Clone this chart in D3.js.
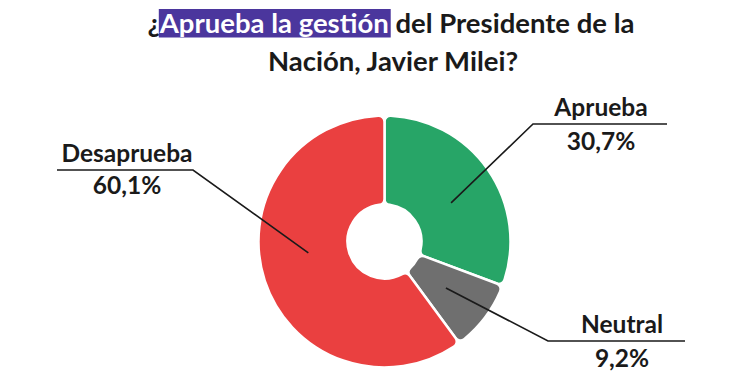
<!DOCTYPE html>
<html><head><meta charset="utf-8">
<script src="https://cdn.jsdelivr.net/npm/d3@7"></script>
<style>
html,body{margin:0;padding:0;background:#fff;}
text{font-family:Lato,"Open Sans",sans-serif;font-weight:700;}
</style></head>
<body><svg id="c" width="735" height="381"></svg>
<script>
const categories = ["Aprueba", "Neutral", "Desaprueba"];
const values = [30.7, 9.2, 60.1];
const valueLabels = ["30,7%", "9,2%", "60,1%"];
const colors = ["#27a567", "#6f6f6f", "#ea4040"];

const svg = d3.select("#c");
const cx = 384.5, cy = 241.5, rOut = 126, rIn = 37;

// Title
const t1 = svg.append("text").attr("x", 391).attr("y", 33).attr("text-anchor", "middle")
  .attr("font-size", 27.5).attr("fill", "#1a1a1a");
t1.append("tspan").text("¿");
const hl = t1.append("tspan").attr("fill", "#fff").text("Aprueba la gestión");
t1.append("tspan").text(" del Presidente de la");
svg.append("text").attr("x", 393).attr("y", 71).attr("text-anchor", "middle")
  .attr("font-size", 27.5).attr("fill", "#1a1a1a").text("Nación, Javier Milei?");
// highlight box behind the span
const n = t1.node();
const s0 = n.getStartPositionOfChar(1).x;
const s1 = n.getEndPositionOfChar(18).x;
svg.insert("rect", "text").attr("x", s0 - 1).attr("y", 9).attr("width", s1 - s0 + 3).attr("height", 28.5)
  .attr("fill", "#4b369d");

const data = categories.map((c, i) => ({cat: c, value: values[i], label: valueLabels[i], color: colors[i]}));
const pie = d3.pie().value(d => d.value).sort(null).startAngle(0).endAngle(2 * Math.PI);
const arcs = pie(data);
const arc = d3.arc().innerRadius(rIn).outerRadius(rOut).cornerRadius(6);
const g = svg.append("g").attr("transform", `translate(${cx},${cy})`);
g.selectAll("path").data(arcs).join("path")
  .attr("d", arc).attr("fill", d => d.data.color)
  .attr("stroke", "#fff").attr("stroke-width", 2.5).attr("stroke-linejoin", "round");

// label layout (elbow point, end x, text center x, name baseline, value baseline)
const layout = {
  "Aprueba":    {ex: 533, ey: 124, endX: 667, tx: 601, ny: 116, vy: 150, shift: 0.08},
  "Neutral":    {ex: 548, ey: 341, endX: 685, tx: 622, ny: 333, vy: 367, shift: 0},
  "Desaprueba": {ex: 193, ey: 170, endX: 57,  tx: 127, ny: 162, vy: 194, shift: 0.17}
};
const rc = 77;
arcs.forEach(a => {
  const L = layout[a.data.cat];
  const ang = (a.startAngle + a.endAngle) / 2 + L.shift;
  const sx = cx + rc * Math.sin(ang), sy = cy - rc * Math.cos(ang);
  svg.append("polyline")
    .attr("points", `${sx},${sy} ${L.ex},${L.ey} ${L.endX},${L.ey}`)
    .attr("fill", "none").attr("stroke", "#1a1a1a").attr("stroke-width", 1.6);
  svg.append("text").attr("x", L.tx).attr("y", L.ny).attr("text-anchor", "middle")
    .attr("font-size", 24.5).attr("fill", "#1a1a1a").text(a.data.cat);
  svg.append("text").attr("x", L.tx).attr("y", L.vy).attr("text-anchor", "middle")
    .attr("font-size", 24.5).attr("fill", "#1a1a1a").text(a.data.label);
});
</script></body></html>
